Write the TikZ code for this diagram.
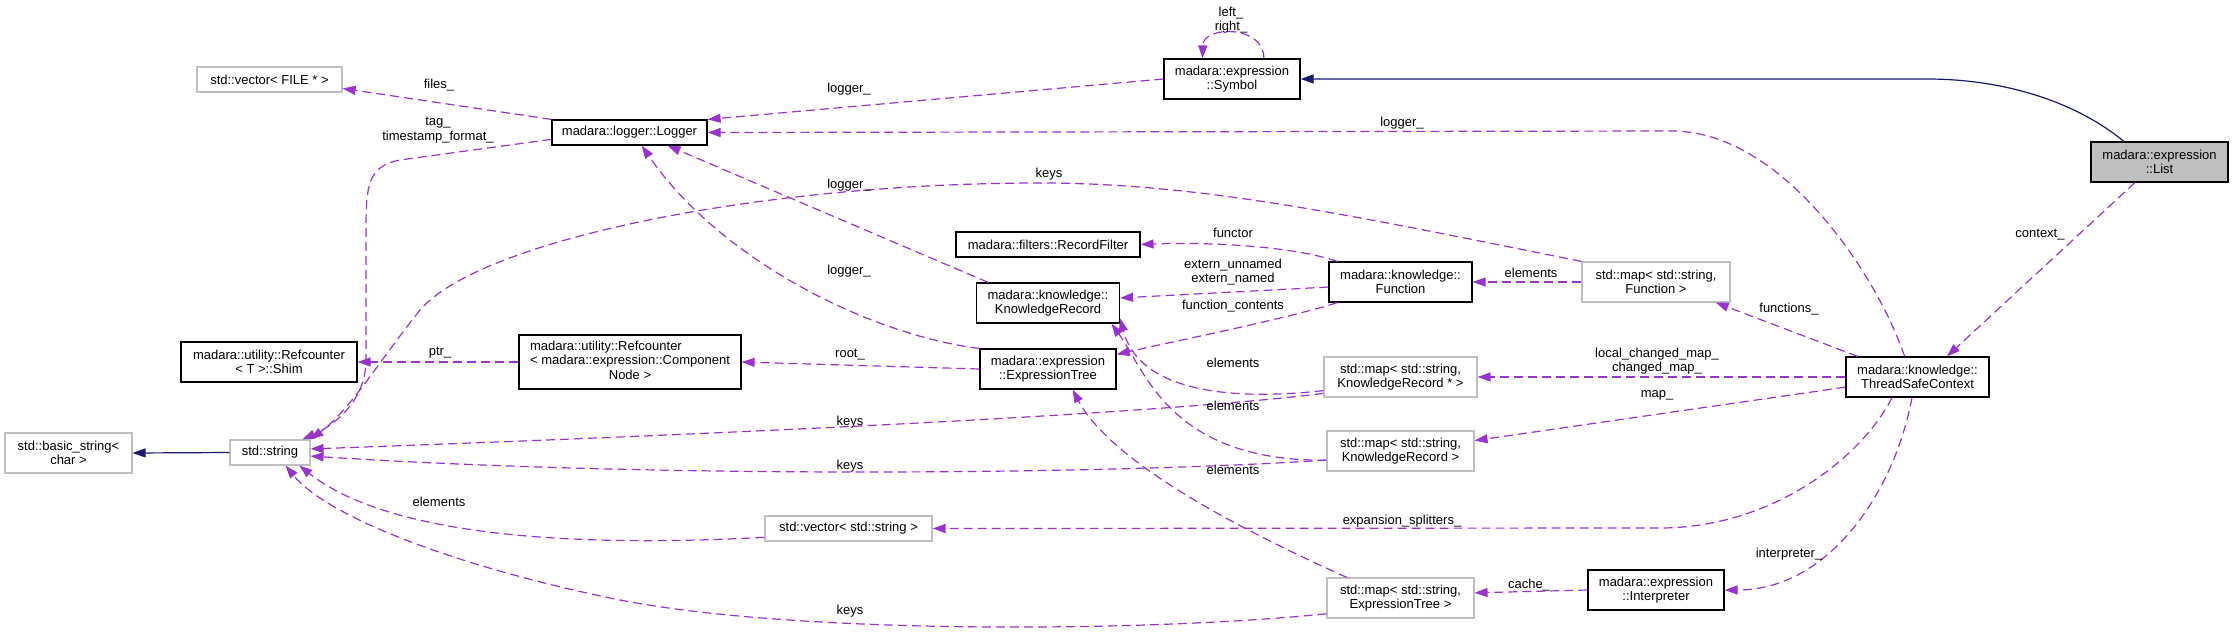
\documentclass[tikz,border=0pt]{standalone}
\usepackage{fontspec}
\setmainfont{Liberation Sans}
\usepackage{tikz}
\usetikzlibrary{positioning, calc, arrows.meta}
\definecolor{orchid}{RGB}{154,50,205}
\definecolor{navyblue}{RGB}{25,25,112}
\definecolor{grey75}{RGB}{191,191,191}

\begin{document}
\begin{tikzpicture}[x=1pt, y=-1pt, >={Triangle[length=13pt, width=9pt]}]
        % Define block styles
        \tikzstyle{block} = [rectangle, draw=black, line width=1.2pt, fill=white, align=center, font=\fontsize{13}{14.5}\selectfont, inner xsep=6pt, inner ysep=3pt, minimum height=25pt]
        \tikzstyle{stdblock} = [block, draw=grey75, line width=1.1pt]
        \tikzstyle{twoline} = [minimum height=40pt]
        \tikzstyle{uses} = [->, draw=orchid, line width=1.2pt, dash pattern=on 9pt off 5pt]
        \tikzstyle{derives} = [->, draw=navyblue, line width=1.2pt]
        \tikzstyle{lbl} = [font=\fontsize{13}{14.5}\selectfont, align=center, inner sep=0pt]

        \useasboundingbox (0,0) rectangle (2233,635);

        % Place nodes
        \node [stdblock, minimum width=145pt] (vecfile) at (269.5,79.5) {std::vector< FILE * >};
        \node [block, minimum width=155pt] (logger) at (629.5,132.5) {madara::logger::Logger};
        \node [block, twoline, minimum width=176pt] (shim) at (269,362) {madara::utility::Refcounter\\< T >::Shim};
        \node [block, minimum width=222pt, minimum height=54pt] (rcnode) at (630,362) {\begin{tabular}{@{}l@{}}madara::utility::Refcounter\\< madara::expression::Component\\\multicolumn{1}{@{}c@{}}{Node >}\end{tabular}};
        \node [stdblock, twoline, minimum width=127pt] (basicstr) at (68.5,453) {std::basic\_string<\\char >};
        \node [stdblock, minimum width=80pt] (stdstr) at (270,452.5) {std::string};
        \node [block, twoline, minimum width=136pt] (symbol) at (1232,79) {madara::expression\\::Symbol};
        \node [block, minimum width=184pt] (recfilter) at (1048,244.5) {madara::filters::RecordFilter};
        \node [block, twoline, minimum width=143pt] (function) at (1400.5,282) {madara::knowledge::\\Function};
        \node [block, twoline, minimum width=143pt] (krecord) at (1048,303) {madara::knowledge::\\KnowledgeRecord};
        \node [block, twoline, minimum width=136pt] (exprtree) at (1048,369) {madara::expression\\::ExpressionTree};
        \node [stdblock, twoline, minimum width=153pt] (mapkrptr) at (1400.5,377) {std::map< std::string,\\KnowledgeRecord * >};
        \node [stdblock, twoline, minimum width=147pt] (mapkrec) at (1400.5,451) {std::map< std::string,\\KnowledgeRecord >};
        \node [stdblock, minimum width=167pt] (vecstr) at (848.5,528.5) {std::vector< std::string >};
        \node [stdblock, twoline, minimum width=147pt] (mapexpr) at (1400.5,598) {std::map< std::string,\\ExpressionTree >};
        \node [block, twoline, fill=grey75, minimum width=137pt] (list) at (2159.5,162) {madara::expression\\::List};
        \node [stdblock, twoline, minimum width=148pt] (mapfunc) at (1656,282) {std::map< std::string,\\Function >};
        \node [block, twoline, minimum width=143pt] (context) at (1917.5,377) {madara::knowledge::\\ThreadSafeContext};
        \node [block, twoline, minimum width=136pt] (interp) at (1656,590) {madara::expression\\::Interpreter};

        % Draw connections as arrows
        \draw [derives] (list.150) .. controls (2080,105) and (2010,79) .. (1927,79) -- (symbol.east);
        \draw [derives] (stdstr.west) -- (basicstr.east);
        \draw [uses] (symbol.33) .. controls (1265,25) and (1203,25) .. (symbol.145);
        \draw [uses] (symbol.west) -- (logger.north east);
        \draw [uses] (context.122) .. controls (1875,270) and (1780,131) .. (1672,131) -- (logger.east);
        \draw [uses] (krecord.161) -- (logger.-19);
        \draw [uses] (exprtree.north west) .. controls (870,335) and (720,260) .. (logger.-47);
        \draw [uses] (logger.north west) -- (vecfile.-7);
        \draw [uses] (logger.185) -- (400,160) .. controls (368,166) and (366,185) .. (366,230) -- (366,360) .. controls (366,400) and (335,425) .. (stdstr.22);
        \draw [uses] (mapfunc.north west) .. controls (1350,215) and (1200,183) .. (1040,183) .. controls (760,183) and (480,240) .. (420,310) .. controls (380,360) and (350,410) .. (stdstr.north east);
        \draw [uses] (mapkrptr.192) .. controls (1150,415) and (700,435) .. (stdstr.5);
        \draw [uses] (mapkrec.187) .. controls (1100,475) and (650,478) .. (stdstr.-5);
        \draw [uses] (mapexpr.192) .. controls (1150,632) and (800,635) .. (620,600) .. controls (470,570) and (330,520) .. (stdstr.-40);
        \draw [uses] (vecstr.186) .. controls (620,545) and (400,545) .. (stdstr.-24);
        \draw [uses] (mapkrptr.190) .. controls (1240,400) and (1140,395) .. (krecord.-12);
        \draw [uses] (mapkrec.187) .. controls (1170,462) and (1145,370) .. (krecord.-18);
        \draw [uses] (mapexpr.159) .. controls (1230,525) and (1110,460) .. (exprtree.-40);
        \draw [uses] (rcnode.west) -- (shim.east);
        \draw [uses] (exprtree.west) -- (rcnode.east);
        \draw [uses] (function.162) .. controls (1290,245) and (1200,242) .. (recfilter.east);
        \draw [uses] (function.184) -- (krecord.4);
        \draw [uses] (function.-162) .. controls (1290,318) and (1180,340) .. (exprtree.12);
        \draw [uses] (mapfunc.west) -- (function.east);
        \draw [uses] (context.161) -- (mapfunc.-19);
        \draw [uses] (context.west) -- (mapkrptr.east);
        \draw [uses] (context.188) -- (mapkrec.8);
        \draw [uses] (context.-141) .. controls (1860,460) and (1770,528) .. (1660,528) -- (vecstr.east);
        \draw [uses] (context.-105) .. controls (1895,490) and (1830,590) .. (interp.east);
        \draw [uses] (list.-140) -- (context.35);
        \draw [uses] (interp.west) -- (mapexpr.4);

        % Add text on the arrows
        \node [lbl] (l-files) at (439,85) {files\_};
        \node [lbl] (l-tag) at (438,130) {tag\_\\timestamp\_format\_};
        \node [lbl] (l-symlog) at (849,89) {logger\_};
        \node [lbl] (l-self) at (1231,20) {left\_\\right\_};
        \node [lbl] (l-ctxlog) at (1402,123) {logger\_};
        \node [lbl] (l-fkeys) at (1049,174) {keys};
        \node [lbl] (l-krlog) at (849,185) {logger\_};
        \node [lbl] (l-functor) at (1233,233) {functor};
        \node [lbl] (l-extern) at (1233,272) {extern\_unnamed\\extern\_named};
        \node [lbl] (l-etlog) at (849,271) {logger\_};
        \node [lbl] (l-felem) at (1531,273) {elements};
        \node [lbl] (l-contents) at (1233,306) {function\_contents};
        \node [lbl] (l-functions) at (1789,309) {functions\_};
        \node [lbl] (l-ptr) at (440,353) {ptr\_};
        \node [lbl] (l-root) at (850,355) {root\_};
        \node [lbl] (l-changed) at (1657,361) {local\_changed\_map\_\\changed\_map\_};
        \node [lbl] (l-kpelem) at (1233,363) {elements};
        \node [lbl] (l-map) at (1657,395) {map\_};
        \node [lbl] (l-kelem) at (1233,406) {elements};
        \node [lbl] (l-kpkeys) at (850,422) {keys};
        \node [lbl] (l-kkeys) at (850,466) {keys};
        \node [lbl] (l-eelem) at (1233,470) {elements};
        \node [lbl] (l-velem) at (439,502) {elements};
        \node [lbl] (l-split) at (1402,521) {expansion\_splitters\_};
        \node [lbl] (l-interp) at (1789,554) {interpreter\_};
        \node [lbl] (l-cache) at (1529,585) {cache\_};
        \node [lbl] (l-ekeys) at (850,611) {keys};
        \node [lbl] (l-context) at (2040,235) {context\_};

\end{tikzpicture}
\end{document}
